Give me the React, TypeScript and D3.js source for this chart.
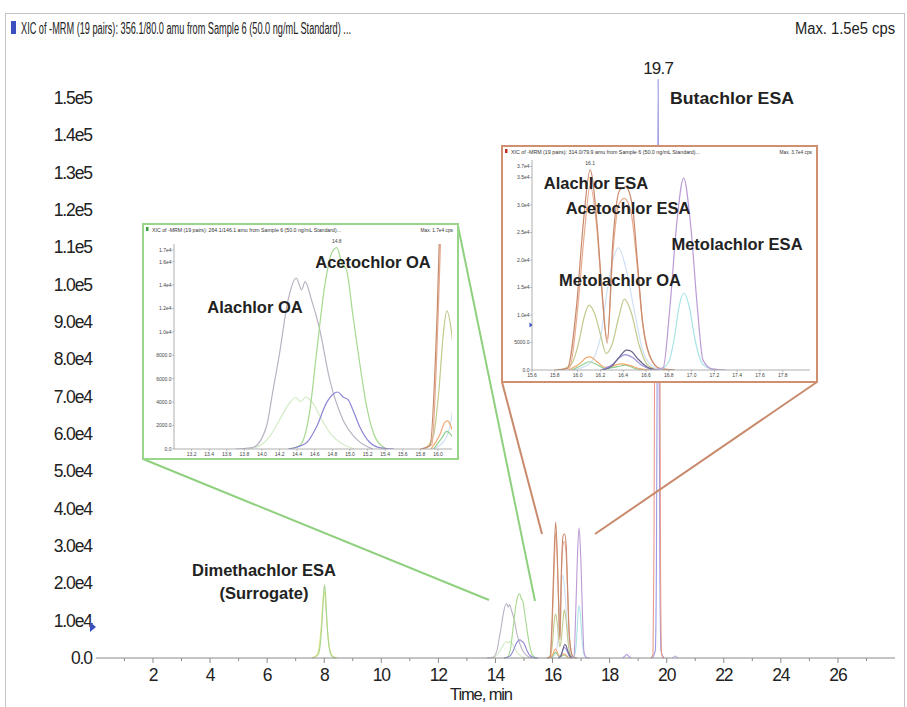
import React from "react";
import * as d3 from "d3";

type Pt = [number, number];

// ---------- axis ticks / labels ----------
const mainYTicks = [0, 10000, 20000, 30000, 40000, 50000, 60000, 70000, 80000, 90000, 100000, 110000, 120000, 130000, 140000, 150000];
const mainXTicks = [2, 4, 6, 8, 10, 12, 14, 16, 18, 20, 22, 24, 26];
const mainXMinor = [1, 3, 5, 7, 9, 11, 13, 15, 17, 19, 21, 23, 25, 27];
const greenYTicks = [0, 2000, 4000, 6000, 8000, 10000, 12000, 14000, 16000, 17000];
const greenXTicks = [13.2, 13.4, 13.6, 13.8, 14.0, 14.2, 14.4, 14.6, 14.8, 15.0, 15.2, 15.4, 15.6, 15.8, 16.0];
const orangeYTicks = [0, 5000, 10000, 15000, 20000, 25000, 30000, 35000, 37000];
const orangeXTicks = [15.6, 15.8, 16.0, 16.2, 16.4, 16.6, 16.8, 17.0, 17.2, 17.4, 17.6, 17.8];

// ---------- traces: [time (min), intensity (cps)] ----------
const dimethachlorEsaA: Pt[] = [[7.6, 0], [7.78, 800], [7.86, 3500], [7.93, 10500], [7.98, 17500], [8.01, 19600], [8.05, 16500], [8.1, 9000], [8.17, 3000], [8.26, 600], [8.4, 0]];
const dimethachlorEsaB: Pt[] = [[7.55, 0], [7.72, 600], [7.82, 3000], [7.9, 9000], [7.96, 15500], [8.0, 17800], [8.05, 14500], [8.12, 7000], [8.2, 2200], [8.3, 500], [8.45, 0]];
const alachlorOa: Pt[] = [[13.7, 0], [13.9, 150], [14.05, 1900], [14.12, 4800], [14.2, 8200], [14.29, 12500], [14.39, 14600], [14.45, 13600], [14.49, 14300], [14.56, 12800], [14.65, 10400], [14.77, 5900], [14.92, 2500], [15.08, 800], [15.26, 0]];
const alachlorOaQual: Pt[] = [[13.85, 0], [14.0, 400], [14.1, 1200], [14.2, 2500], [14.3, 3800], [14.38, 4400], [14.44, 4050], [14.5, 4450], [14.58, 3900], [14.68, 2500], [14.78, 1300], [14.9, 500], [15.05, 0]];
const acetochlorOa: Pt[] = [[14.3, 0], [14.43, 300], [14.54, 3100], [14.62, 8200], [14.71, 13800], [14.79, 16700], [14.85, 17200], [14.91, 15800], [14.96, 15300], [15.03, 11600], [15.11, 7350], [15.19, 3600], [15.3, 800], [15.42, 0]];
const acetochlorOaQual: Pt[] = [[14.3, 0], [14.5, 500], [14.62, 1900], [14.73, 3900], [14.81, 4700], [14.86, 4870], [14.92, 4450], [14.98, 4200], [15.03, 3400], [15.11, 1900], [15.22, 600], [15.35, 100], [15.5, 0]];
const alachlorAcetochlorEsa: Pt[] = [[15.8, 0], [15.91, 300], [15.99, 11500], [16.05, 26700], [16.11, 36400], [16.17, 26700], [16.21, 15500], [16.26, 4900], [16.31, 23600], [16.37, 32700], [16.42, 33300], [16.48, 30000], [16.52, 20900], [16.57, 8800], [16.63, 2800], [16.72, 300], [16.85, 0]];
const alachlorAcetochlorEsaQual: Pt[] = [[15.82, 0], [15.93, 400], [16.0, 11000], [16.06, 25000], [16.11, 33500], [16.17, 25500], [16.21, 15000], [16.26, 5600], [16.31, 21500], [16.36, 30000], [16.41, 31200], [16.47, 28500], [16.52, 19500], [16.57, 8500], [16.63, 2600], [16.72, 300], [16.85, 0]];
const esaOlive: Pt[] = [[15.85, 0], [15.95, 1200], [16.01, 5000], [16.06, 9800], [16.1, 11800], [16.15, 10200], [16.2, 6500], [16.25, 3000], [16.3, 4500], [16.36, 9500], [16.41, 12900], [16.47, 10500], [16.54, 4500], [16.61, 1000], [16.7, 0]];
const metolachlorOa: Pt[] = [[15.95, 0], [16.08, 800], [16.15, 2500], [16.2, 5800], [16.26, 14500], [16.31, 20000], [16.36, 22200], [16.42, 18800], [16.5, 10500], [16.58, 3000], [16.68, 400], [16.78, 0]];
const metolachlorEsa: Pt[] = [[16.65, 0], [16.75, 400], [16.81, 11500], [16.87, 26700], [16.93, 34900], [16.99, 26700], [17.05, 11500], [17.1, 1800], [17.18, 200], [17.3, 0]];
const metolachlorEsaQual: Pt[] = [[16.72, 0], [16.8, 1500], [16.85, 6000], [16.89, 11500], [16.93, 14000], [16.98, 11500], [17.03, 5500], [17.1, 1000], [17.2, 0]];
const esaSmallOrange: Pt[] = [[15.92, 0], [16.02, 1200], [16.08, 2300], [16.11, 2400], [16.16, 1700], [16.24, 500], [16.3, 700], [16.38, 1100], [16.45, 900], [16.55, 200], [16.65, 0]];
const oaSmallDark: Pt[] = [[16.22, 0], [16.3, 700], [16.36, 2200], [16.43, 3600], [16.47, 3400], [16.53, 2000], [16.6, 700], [16.7, 0]];
const oaSmallViolet: Pt[] = [[16.2, 0], [16.3, 900], [16.37, 2300], [16.42, 2800], [16.48, 2300], [16.56, 900], [16.66, 0]];
const esaSmallGreen: Pt[] = [[15.95, 0], [16.04, 900], [16.1, 1500], [16.16, 1100], [16.24, 300], [16.35, 600], [16.42, 900], [16.5, 300], [16.6, 0]];
const butachlorEsa: Pt[] = [[19.5, 0], [19.6, 2000], [19.64, 25000], [19.67, 90000], [19.7, 155000], [19.73, 90000], [19.76, 25000], [19.8, 2000], [19.9, 0]];
const butachlorEsaQual: Pt[] = [[19.45, 0], [19.52, 1000], [19.555, 30000], [19.575, 80000], [19.62, 120000], [19.7, 125000], [19.74, 120000], [19.765, 80000], [19.78, 30000], [19.82, 1000], [19.9, 0]];
const smallBump186: Pt[] = [[18.45, 0], [18.55, 600], [18.6, 1000], [18.65, 600], [18.75, 0]];
const smallBump203: Pt[] = [[20.2, 0], [20.3, 500], [20.4, 0]];

const traceData: Pt[][] = [
  dimethachlorEsaB, dimethachlorEsaA, alachlorOaQual, alachlorOa, acetochlorOa, acetochlorOaQual,
  metolachlorOa, esaOlive, esaSmallGreen, esaSmallOrange, oaSmallViolet, oaSmallDark,
  alachlorAcetochlorEsaQual, alachlorAcetochlorEsa, metolachlorEsaQual, metolachlorEsa,
  smallBump186, smallBump203, butachlorEsa, butachlorEsaQual,
];
const traceColors = [
  "#e3e58a", "#a9d58f", "#d3ebc6", "#b9b3c3", "#a6d98f", "#8c86d6",
  "#cfe0f4", "#c2c98c", "#8fd08f", "#f2a86f", "#9a8ee0", "#67668a",
  "#e6ab8f", "#c98a6c", "#a9e3e6", "#bb9bd6",
  "#b8a0e0", "#c0c0e8", "#9a9ae6", "#e89a8a",
];

const FONT = "'Liberation Sans', Arial, sans-serif";

const fmtTick = (v: number) => (v < 10000 ? v.toFixed(1) : d3.format(".1e")(v).replace("+", ""));

function Traces({ x, y, width }: { x: d3.ScaleLinear<number, number>; y: d3.ScaleLinear<number, number>; width: number }) {
  const line = d3.line<Pt>().x((d) => x(d[0])).y((d) => y(d[1])).curve(d3.curveMonotoneX);
  return (
    <g>
      {traceData.map((t, i) => (
        <path key={i} d={line(t) || ""} fill="none" stroke={traceColors[i]} strokeWidth={width} />
      ))}
    </g>
  );
}

function Inset(props: {
  id: string; bx: number; by: number; bw: number; bh: number; color: string; marker: string;
  x: d3.ScaleLinear<number, number>; y: d3.ScaleLinear<number, number>;
  yTicks: number[]; xTicks: number[]; title: string; maxText: string;
  axisEnd: number; clipTop: number; peakLabel: string; peakT: number; peakLabelY: number;
}) {
  const { id, bx, by, bw, bh, color, x, y } = props;
  const x0 = x.range()[0];
  const y0 = y(0);
  return (
    <g>
      <rect x={bx} y={by} width={bw} height={bh} fill="#fff" stroke={color} strokeWidth={2} />
      <rect x={bx + 3} y={by + 3} width={2.5} height={4} fill={props.marker} />
      <text x={bx + 9} y={by + 7.5} fontSize={4.8} fill="#333" fontFamily={FONT} textLength={bw * 0.6} lengthAdjust="spacingAndGlyphs">{props.title}</text>
      <text x={bx + bw - 5} y={by + 7.5} fontSize={4.8} fill="#333" fontFamily={FONT} textAnchor="end">{props.maxText}</text>
      <clipPath id={id}>
        <rect x={x0} y={props.clipTop} width={props.axisEnd - x0} height={y0 - props.clipTop} />
      </clipPath>
      <g clipPath={`url(#${id})`}>
        <Traces x={x} y={y} width={1.2} />
      </g>
      <line x1={x0} x2={x0} y1={props.clipTop} y2={y0} stroke="#9a9a9a" strokeWidth={0.8} />
      <line x1={x0} x2={props.axisEnd} y1={y0} y2={y0} stroke="#9a9a9a" strokeWidth={0.8} />
      {props.yTicks.map((v) => (
        <g key={v}>
          <line x1={x0 - 2} x2={x0} y1={y(v)} y2={y(v)} stroke="#9a9a9a" strokeWidth={0.6} />
          <text x={x0 - 2.5} y={y(v) + 1.8} fontSize={5} textAnchor="end" fill="#444" fontFamily={FONT}>{fmtTick(v)}</text>
        </g>
      ))}
      {props.xTicks.map((v) => (
        <g key={v}>
          <line x1={x(v)} x2={x(v)} y1={y0} y2={y0 + 2} stroke="#9a9a9a" strokeWidth={0.6} />
          <text x={x(v)} y={y0 + 7} fontSize={5} textAnchor="middle" fill="#444" fontFamily={FONT}>{v.toFixed(1)}</text>
        </g>
      ))}
      <text x={x(props.peakT)} y={props.peakLabelY} fontSize={5} textAnchor="middle" fill="#444" fontFamily={FONT}>{props.peakLabel}</text>
    </g>
  );
}

export default function App() {
  // main chart scales
  const x = d3.scaleLinear().domain([0, 28]).range([95.9, 95.9 + 28 * 28.54]);
  const y = d3.scaleLinear().domain([0, 150000]).range([658, 98]);
  // green inset scales
  const xg = d3.scaleLinear().domain([13.0, 16.1]).range([174, 174 + 3.1 * 88]);
  const yg = d3.scaleLinear().domain([0, 17000]).range([449, 250]);
  // orange inset scales
  const xo = d3.scaleLinear().domain([15.6, 18.0]).range([532, 532 + 2.4 * 114]);
  const yo = d3.scaleLinear().domain([0, 37000]).range([370, 166.5]);

  const bold = { fontFamily: FONT, fontWeight: 700, fontSize: 16.5, fill: "#222" } as const;
  const tickFont = { fontFamily: FONT, fontSize: 17.5, fill: "#222", letterSpacing: -1.1 } as const;

  return (
    <svg width={907} height={707} style={{ position: "absolute", left: 0, top: 0, background: "#fff" }}>
      <rect x={0} y={0} width={907} height={707} fill="#fff" />
      <rect x={5.5} y={13.5} width={899} height={700} fill="none" stroke="#c4c4c4" strokeWidth={1} />
      {/* header */}
      <rect x={11} y={21} width={5} height={13} fill="#3a4fc0" />
      <text x={21} y={34} fontSize={16} fontFamily={FONT} fill="#222" textLength={330} lengthAdjust="spacingAndGlyphs">
        XIC of -MRM (19 pairs): 356.1/80.0 amu from Sample 6 (50.0 ng/mL Standard) ...
      </text>
      <text x={895} y={34} fontSize={16} fontFamily={FONT} fill="#222" textAnchor="end" textLength={100} lengthAdjust="spacingAndGlyphs">
        Max. 1.5e5 cps
      </text>

      {/* main traces */}
      <clipPath id="mainClip">
        <rect x={96} y={78} width={800} height={581} />
      </clipPath>
      <g clipPath="url(#mainClip)">
        <Traces x={x} y={y} width={1.1} />
      </g>

      {/* axes */}
      <line x1={96} x2={895} y1={658} y2={658} stroke="#8a8a8a" strokeWidth={1} />
      {mainXTicks.map((v) => (
        <g key={v}>
          <line x1={x(v)} x2={x(v)} y1={658} y2={663} stroke="#8a8a8a" />
          <text x={x(v)} y={681} textAnchor="middle" {...tickFont}>{v}</text>
        </g>
      ))}
      {mainXMinor.map((v) => (
        <line key={v} x1={x(v)} x2={x(v)} y1={658} y2={661} stroke="#8a8a8a" />
      ))}
      {mainYTicks.map((v) => (
        <text key={v} x={92} y={y(v) + 6} textAnchor="end" {...tickFont}>{fmtTick(v)}</text>
      ))}
      <path d="M90,622 L96,627 L90,632 Z" fill="#3a4fc0" />
      <text x={481} y={700} textAnchor="middle" {...tickFont} fontSize={16.5}>Time, min</text>

      {/* main annotations */}
      <text x={x(19.7)} y={74} fontSize={17} textAnchor="middle" fontFamily={FONT} fill="#222" letterSpacing={-0.8}>19.7</text>
      <text x={670} y={104} {...bold} textLength={124} lengthAdjust="spacingAndGlyphs">Butachlor ESA</text>
      <text x={264} y={576} {...bold} textAnchor="middle">Dimethachlor ESA</text>
      <text x={264} y={599} {...bold} textAnchor="middle">(Surrogate)</text>

      {/* connector lines */}
      <line x1={143} y1={459} x2={489} y2={600} stroke="#8fd07f" strokeWidth={2} />
      <line x1={458} y1={226} x2={535} y2={601} stroke="#8fd07f" strokeWidth={2} />
      <line x1={502} y1={382} x2={542} y2={534} stroke="#c98a6c" strokeWidth={2} />
      <line x1={817} y1={382} x2={595} y2={534} stroke="#c98a6c" strokeWidth={2} />

      {/* green inset */}
      <Inset id="gclip" bx={143} by={224} bw={315} bh={235} color="#9ad68a" marker="#3aa040"
        x={xg} y={yg} yTicks={greenYTicks} xTicks={greenXTicks}
        title="XIC of -MRM (19 pairs): 264.1/146.1 amu from Sample 6 (50.0 ng/mL Standard)..." maxText="Max. 1.7e4 cps"
        axisEnd={452} clipTop={244} peakLabel="14.8" peakT={14.85} peakLabelY={243} />
      <text x={255} y={313} {...bold} textAnchor="middle">Alachlor OA</text>
      <text x={373} y={268} {...bold} textAnchor="middle">Acetochlor OA</text>

      {/* orange inset */}
      <Inset id="oclip" bx={502} by={146} bw={315} bh={236} color="#d0906f" marker="#c03020"
        x={xo} y={yo} yTicks={orangeYTicks} xTicks={orangeXTicks}
        title="XIC of -MRM (19 pairs): 314.0/79.9 amu from Sample 6 (50.0 ng/mL Standard)..." maxText="Max. 3.7e4 cps"
        axisEnd={810} clipTop={160} peakLabel="16.1" peakT={16.11} peakLabelY={165} />
      <path d="M529.5,322.5 L532.5,325 L529.5,327.5 Z" fill="#3a4fc0" />
      <text x={596} y={189} {...bold} textAnchor="middle">Alachlor ESA</text>
      <text x={628} y={214} {...bold} textAnchor="middle">Acetochlor ESA</text>
      <text x={737} y={250} {...bold} textAnchor="middle">Metolachlor ESA</text>
      <text x={620} y={286} {...bold} textAnchor="middle">Metolachlor OA</text>
    </svg>
  );
}
